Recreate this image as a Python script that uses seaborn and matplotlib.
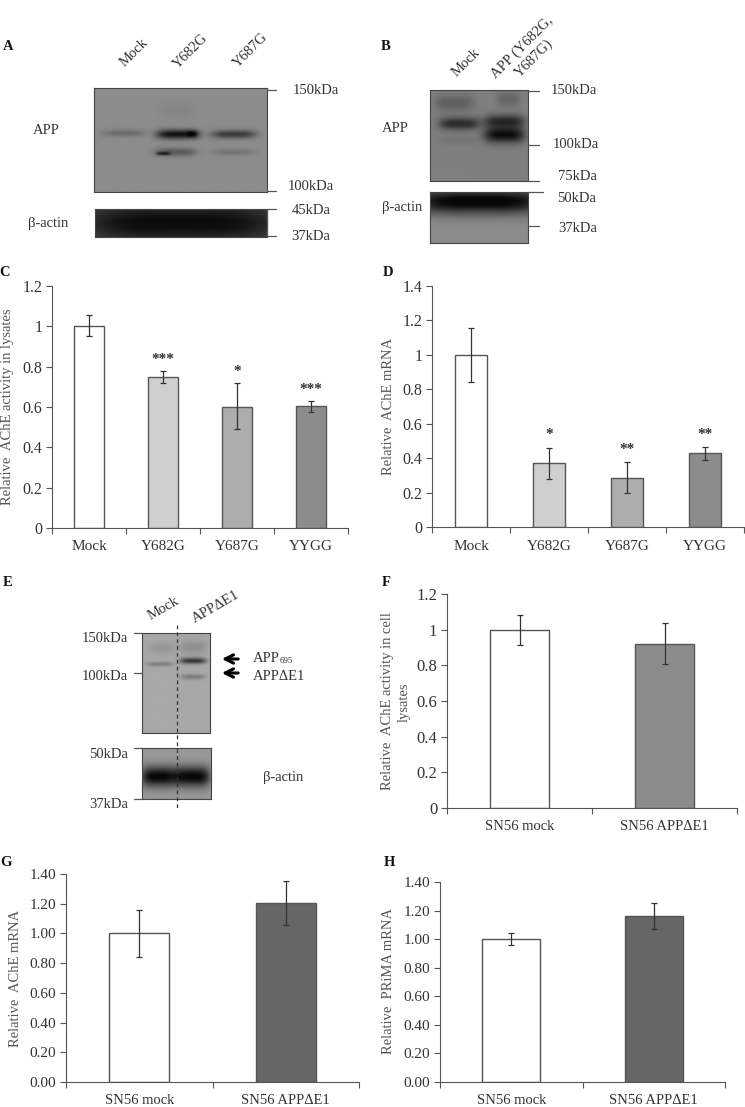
import numpy as np
import seaborn as sns
import matplotlib.pyplot as plt

W, H = 745, 1107

# bar data
c_cats = ['Mock', 'Y682G', 'Y687G', 'YYGG']
c_vals = [1.0, 0.75, 0.60, 0.605]
c_low = [0.95, 0.72, 0.49, 0.575]
c_high = [1.055, 0.78, 0.72, 0.63]
c_stars = ['', '***', '*', '***']
c_star_y = [0, 0.835, 0.775, 0.685]

d_cats = ['Mock', 'Y682G', 'Y687G', 'YYGG']
d_vals = [1.0, 0.37, 0.285, 0.43]
d_low = [0.845, 0.28, 0.195, 0.39]
d_high = [1.155, 0.46, 0.375, 0.465]
d_stars = ['', '*', '**', '**']
d_star_y = [0, 0.54, 0.45, 0.535]

f_cats = ['SN56 mock', 'SN56 APPΔE1']
f_vals = [1.0, 0.92]
f_low = [0.915, 0.805]
f_high = [1.085, 1.035]

g_cats = ['SN56 mock', 'SN56 APPΔE1']
g_vals = [1.0, 1.205]
g_low = [0.84, 1.055]
g_high = [1.16, 1.35]

h_cats = ['SN56 mock', 'SN56 APPΔE1']
h_vals = [1.0, 1.16]
h_low = [0.96, 1.07]
h_high = [1.04, 1.255]

four_greys = ['#ffffff', '#cfcfcf', '#adadad', '#8c8c8c']

# blot bands: centre x, centre y, half width, half height, darkness
blot_a = [(.17, .44, .125, .035, .12), (.485, .45, .125, .045, .48), (.47, .62, .12, .04, .2),
          (.40, .635, .04, .016, .3), (.57, .445, .03, .03, .2), (.81, .45, .13, .04, .32),
          (.81, .62, .12, .03, .1), (.48, .22, .1, .08, .03)]
actin_a = [(.5, .5, .6, .75, .32)]
blot_b = [(.3, .37, .21, .07, .33), (.25, .14, .2, .09, .13), (.76, .49, .21, .09, .45),
          (.76, .34, .21, .07, .33), (.8, .1, .12, .09, .1), (.3, .55, .2, .05, .05)]
actin_b = [(.5, .2, .7, .24, .55)]
blot_e = [(.26, .31, .19, .022, .17), (.74, .277, .19, .03, .45), (.74, .437, .18, .026, .18),
          (.74, .14, .2, .07, .1), (.3, .15, .2, .06, .07)]
actin_e = [(.25, .56, .27, .2, .58), (.74, .56, .25, .2, .58)]

sns.set_theme(style='ticks')
plt.rcParams['font.family'] = ['Liberation Serif', 'DejaVu Sans']

fig = plt.figure(figsize=(W / 100, H / 100), dpi=100, facecolor='white')


def box(x0, y0, x1, y1):
    return fig.add_axes([x0 / W, 1 - y1 / H, (x1 - x0) / W, (y1 - y0) / H])


def bars(rect, cats, vals, low, high, colors, ymax, step, fmt, xfs=11, yfs=11.5):
    ax = box(*rect)
    sns.barplot(x=cats, y=vals, hue=cats, palette=colors, legend=False, width=0.41,
                edgecolor='#555555', linewidth=1, saturation=1, ax=ax)
    vals = np.array(vals)
    yerr = [vals - np.array(low), np.array(high) - vals]
    ax.errorbar(range(len(cats)), vals, yerr=yerr, fmt='none', ecolor='#333333',
                elinewidth=0.9, capsize=2.5, capthick=0.9)
    ax.set_xlim(-0.5, len(cats) - 0.5)
    ax.set_ylim(0, ymax)
    ticks = np.arange(0, ymax + step / 2, step)
    ax.set_yticks(ticks)
    ax.set_yticklabels([fmt % t if fmt else f'{t:g}' for t in ticks])
    ax.set_xticks(np.arange(len(cats) + 1) - 0.5)
    ax.set_xticklabels([])
    ax.set_xticks(range(len(cats)), cats, minor=True)
    ax.tick_params(axis='x', which='major', length=4, width=0.8, color='#555555')
    ax.tick_params(axis='x', which='minor', length=0, labelsize=xfs, labelcolor='#333333', pad=9)
    ax.tick_params(axis='y', length=4, width=0.8, color='#555555', labelsize=yfs,
                   labelcolor='#333333', pad=3)
    ax.set_xlabel('')
    ax.set_ylabel('')
    ax.patch.set_alpha(0)
    sns.despine(ax=ax)
    for side in ['left', 'bottom']:
        ax.spines[side].set_color('#555555')
        ax.spines[side].set_linewidth(0.8)
    return ax


def blot(rect, bg, bands):
    ax = box(*rect)
    yy, xx = np.mgrid[0:1:220j, 0:1:320j]
    img = np.full(xx.shape, bg, dtype=float)
    for cx, cy, wx, wy, dark in bands:
        img -= dark * np.exp(-((xx - cx) / wx) ** 4 - ((yy - cy) / wy) ** 2)
    ax.imshow(np.clip(img, 0.03, 1), cmap='gray', vmin=0, vmax=1, aspect='auto',
              extent=[0, 1, 1, 0], interpolation='bilinear')
    ax.set_xticks([])
    ax.set_yticks([])
    for s in ax.spines.values():
        s.set_color('#444444')
        s.set_linewidth(0.8)
    return ax


# bar panels
ax_c = bars((52, 286, 348, 528), c_cats, c_vals, c_low, c_high, four_greys, 1.2, 0.2, None)
ax_d = bars((432, 286, 744, 527), d_cats, d_vals, d_low, d_high, four_greys, 1.4, 0.2, None)
ax_f = bars((447, 594, 737, 808), f_cats, f_vals, f_low, f_high, ['#ffffff', '#8c8c8c'], 1.2, 0.2, None,
            xfs=10.5, yfs=12)
ax_g = bars((66, 874, 359, 1082), g_cats, g_vals, g_low, g_high, ['#ffffff', '#666666'], 1.4, 0.2, '%.2f',
            xfs=10.5, yfs=11)
ax_h = bars((440, 882, 725, 1082), h_cats, h_vals, h_low, h_high, ['#ffffff', '#666666'], 1.4, 0.2, '%.2f',
            xfs=10.5, yfs=11)

for ax, stars, ys in [(ax_c, c_stars, c_star_y), (ax_d, d_stars, d_star_y)]:
    for i, (s, y) in enumerate(zip(stars, ys)):
        if s:
            ax.text(i, y, s, ha='center', va='center', fontsize=11, fontweight='bold', color='#333333')

# blots
blot((94, 88, 267, 192), 0.55, blot_a)
blot((95, 209, 267, 237), 0.36, actin_a)
blot((430, 90, 528, 181), 0.5, blot_b)
blot((430, 192, 528, 243), 0.55, actin_b)
blot((142, 633, 210, 733), 0.66, blot_e)
blot((142, 748, 211, 799), 0.6, actin_e)

# overlay in picture pixels for labels, kDa ticks and arrows
ov = fig.add_axes([0, 0, 1, 1], zorder=10)
ov.set_xlim(0, W)
ov.set_ylim(H, 0)
ov.axis('off')


def label(x, y, s, fs=10.5, rot=0, ha='center', color='#333333', **kw):
    ov.text(x, y, s, fontsize=fs, rotation=rot, ha=ha, va='center', color=color,
            rotation_mode='anchor' if rot and rot != 90 else 'default', **kw)


for x, y, s in [(8, 47, 'A'), (386, 47, 'B'), (5, 273, 'C'), (388, 273, 'D'),
                (8, 582, 'E'), (386, 582, 'F'), (6, 862, 'G'), (389, 862, 'H')]:
    label(x, y, s, fs=10.5, fontweight='bold', color='#111111')

for x, y, s in [(134, 53, 'Mock'), (191, 51, 'Y682G'), (251, 50, 'Y687G'), (466, 63, 'Mock')]:
    label(x, y, s, fs=10.5, rot=45)
label(528, 53, 'APP (Y682G,\nY687G)', fs=10.5, rot=45)
label(164, 609, 'Mock', fs=10.5, rot=30)
label(216, 607, 'APPΔE1', fs=10.5, rot=30)

for x, y, s in [(46, 131, 'APP'), (48, 224, 'β-actin'), (395, 129, 'APP'), (402, 207, 'β-actin'),
                (283, 778, 'β-actin')]:
    label(x, y, s)

for x, y, s in [(316, 91, '150kDa'), (311, 186, '100kDa'), (311, 210, '45kDa'), (311, 236, '37kDa'),
                (574, 91, '150kDa'), (576, 145, '100kDa'), (577, 177, '75kDa'), (577, 199, '50kDa'),
                (578, 229, '37kDa')]:
    label(x, y, s)
for y, s in [(639, '150kDa'), (677, '100kDa'), (755, '50kDa'), (804, '37kDa')]:
    label(128, y, s, ha='right')

for x0, x1, y in [(267, 276, 90), (267, 276, 191), (267, 276, 209), (267, 276, 236),
                  (528, 539, 91), (528, 539, 145), (528, 539, 181), (528, 543, 192), (528, 539, 226),
                  (134, 142, 633), (134, 142, 673), (134, 142, 748), (134, 142, 799)]:
    ov.plot([x0, x1], [y, y], color='#555555', lw=0.9)
ov.plot([267, 267], [209, 236], color='#555555', lw=0.9)

ov.plot([177, 177], [625, 808], color='#333333', lw=0.9, ls=(0, (3, 2.5)))

for y in [659, 673]:
    ov.annotate('', xy=(219, y), xytext=(241, y),
                arrowprops=dict(arrowstyle='->', color='black', lw=2.2, mutation_scale=15))
label(253, 658, 'APP', ha='left')
label(280, 661, '695', fs=6.5, ha='left')
label(253, 677, 'APPΔE1', ha='left')

# y axis titles
label(8, 407, 'Relative  AChE activity in lysates', fs=10.5, rot=90, color='#555555')
label(389, 406, 'Relative  AChE mRNA', fs=10.5, rot=90, color='#555555')
label(388, 701, 'Relative  AChE activity in cell', fs=10.5, rot=90, color='#555555')
label(404, 702, 'lysates', fs=10.5, rot=90, color='#555555')
label(16, 978, 'Relative  AChE mRNA', fs=10.5, rot=90, color='#555555')
label(389, 981, 'Relative  PRiMA mRNA', fs=10.5, rot=90, color='#555555')

fig.savefig('out.png', dpi=100)
